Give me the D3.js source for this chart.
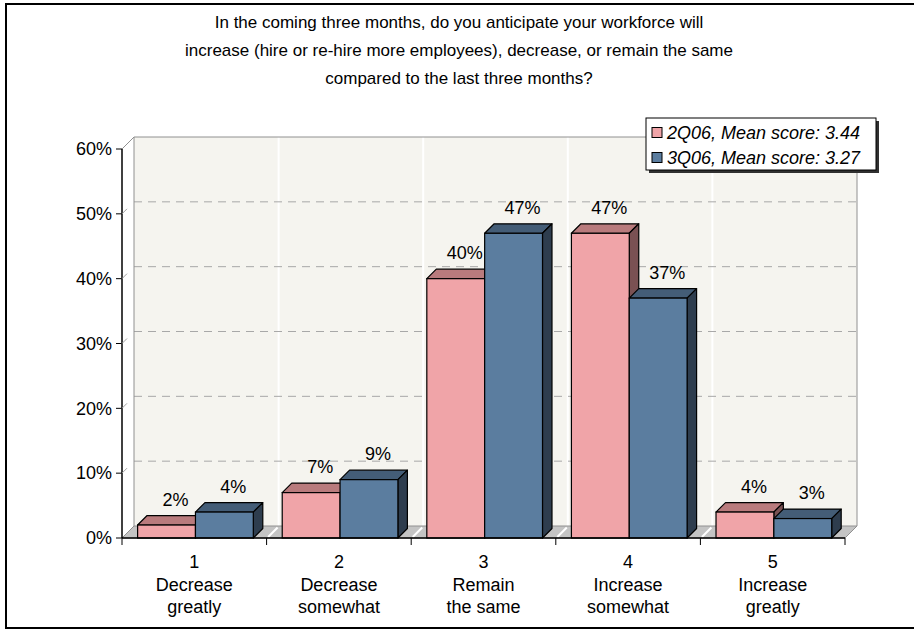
<!DOCTYPE html>
<html>
<head>
<meta charset="utf-8">
<script src="https://cdn.jsdelivr.net/npm/d3@7"></script>
<style>
  html, body { margin: 0; padding: 0; background: #fff; }
  svg { display: block; font-family: Arial, "Liberation Sans", sans-serif; }
</style>
</head>
<body>
<svg id="chart" width="914" height="630"></svg>
<script>
// Survey question, categories and the two quarters' shares (percent)
const titleLines = [
  "In the coming three months, do you anticipate your workforce will",
  "increase (hire or re-hire more employees), decrease, or remain the same",
  "compared to the last three months?"
];
const categories = [
  ["1", "Decrease", "greatly"],
  ["2", "Decrease", "somewhat"],
  ["3", "Remain", "the same"],
  ["4", "Increase", "somewhat"],
  ["5", "Increase", "greatly"]
];
const seriesNames = ["2Q06, Mean score: 3.44", "3Q06, Mean score: 3.27"];
const values2Q06 = [2, 7, 40, 47, 4];
const values3Q06 = [4, 9, 47, 37, 3];
const yTicks = [0, 10, 20, 30, 40, 50, 60];

// face colours per series: front, top, side
const palettes = [
  { front: "#f0a4a8", top: "#b97b7d", side: "#7a5153" },
  { front: "#5b7d9f", top: "#445d77", side: "#2e3d4e" }
];

const svg = d3.select("#chart");

// outer frame
svg.append("rect")
  .attr("x", 6).attr("y", 4).attr("width", 920).attr("height", 624)
  .attr("fill", "none").attr("stroke", "#000").attr("stroke-width", 2);

// title
svg.append("g").selectAll("text").data(titleLines).join("text")
  .attr("x", 459).attr("y", (d, i) => 22 + i * 28)
  .attr("dy", "0.35em")
  .attr("text-anchor", "middle")
  .attr("font-size", 17)
  .attr("fill", "#000")
  .text(d => d);

// plot geometry
const x0 = 122, x1 = 845;
const depth = 12;          // wall offset (up-right)
const barDepth = 9.5;      // bar top/side offset
const y = d3.scaleLinear().domain([0, 60]).range([538, 149]);
const xCat = d3.scaleBand().domain(d3.range(categories.length)).range([x0, x1]).padding(0);
const bw = xCat.bandwidth();
const xSer = d3.scaleBand().domain([0, 1])
  .range([0.108 * bw, 0.108 * bw + 0.8 * bw]).padding(0);

const g = svg.append("g");

// back wall
g.append("rect")
  .attr("x", x0 + depth).attr("y", y(60) - depth)
  .attr("width", x1 - x0).attr("height", y(0) - y(60))
  .attr("fill", "#f5f4ef");

// category separators on the back wall
g.append("g").selectAll("line").data(d3.range(1, categories.length)).join("line")
  .attr("x1", i => xCat(i) + depth).attr("x2", i => xCat(i) + depth)
  .attr("y1", y(60) - depth).attr("y2", y(0) - depth)
  .attr("stroke", "#ffffff").attr("stroke-width", 2);

// dashed gridlines on the back wall
g.append("g").selectAll("line").data(yTicks.filter(t => t > 0 && t < 60)).join("line")
  .attr("x1", x0 + depth).attr("x2", x1 + depth)
  .attr("y1", t => y(t) - depth).attr("y2", t => y(t) - depth)
  .attr("stroke", "#a8a8a8").attr("stroke-width", 1)
  .attr("stroke-dasharray", "8,6");

// back wall edges
g.append("path")
  .attr("d", `M${x0 + depth},${y(0) - depth}V${y(60) - depth}H${x1 + depth}V${y(0) - depth}`)
  .attr("fill", "none").attr("stroke", "#909090").attr("stroke-width", 1);
g.append("line")
  .attr("x1", x0).attr("y1", y(60)).attr("x2", x0 + depth).attr("y2", y(60) - depth)
  .attr("stroke", "#909090");

// floor
g.append("path")
  .attr("d", `M${x0},${y(0)}L${x1},${y(0)}L${x1 + depth},${y(0) - depth}L${x0 + depth},${y(0) - depth}Z`)
  .attr("fill", "#c4c4c4").attr("stroke", "#909090").attr("stroke-width", 1);
g.append("g").selectAll("line").data(d3.range(1, categories.length)).join("line")
  .attr("x1", i => xCat(i) + 1.5).attr("y1", y(0) - 1)
  .attr("x2", i => xCat(i) + depth - 1).attr("y2", y(0) - depth + 1.5)
  .attr("stroke", "#ffffff").attr("stroke-width", 2);

// bars
const allSeries = [values2Q06, values3Q06];
allSeries.forEach((vals, s) => {
  const pal = palettes[s];
  const bg = g.append("g");
  vals.forEach((v, i) => {
    const bx = xCat(i) + xSer(s);
    const w = xSer.bandwidth();
    const yt = y(v), yb = y(0);
    const d = barDepth;
    // top face
    bg.append("path")
      .attr("d", `M${bx},${yt}L${bx + d},${yt - d}L${bx + w + d},${yt - d}L${bx + w},${yt}Z`)
      .attr("fill", pal.top).attr("stroke", "#000").attr("stroke-width", 1.2)
      .attr("stroke-linejoin", "round");
    // side face
    bg.append("path")
      .attr("d", `M${bx + w},${yt}L${bx + w + d},${yt - d}L${bx + w + d},${yb - d}L${bx + w},${yb}Z`)
      .attr("fill", pal.side).attr("stroke", "#000").attr("stroke-width", 1.2)
      .attr("stroke-linejoin", "round");
    // front face
    bg.append("rect")
      .attr("x", bx).attr("y", yt).attr("width", w).attr("height", yb - yt)
      .attr("fill", pal.front).attr("stroke", "#000").attr("stroke-width", 1.2);
    // value label
    bg.append("text")
      .attr("x", bx + w / 2 + 9).attr("y", yt - d - 16)
      .attr("dy", "0.35em")
      .attr("text-anchor", "middle").attr("font-size", 18).attr("fill", "#000")
      .text(v + "%");
  });
});

// value axis
const ya = svg.append("g");
ya.append("line").attr("x1", x0).attr("x2", x0).attr("y1", y(60)).attr("y2", y(0))
  .attr("stroke", "#000").attr("stroke-width", 1.5);
ya.selectAll(".tk").data(yTicks).join("line")
  .attr("x1", x0 - 6).attr("x2", x0)
  .attr("y1", t => y(t)).attr("y2", t => y(t))
  .attr("stroke", "#000").attr("stroke-width", 1);
ya.selectAll(".stub").data(yTicks.filter(t => t > 0 && t < 60)).join("line")
  .attr("x1", x0).attr("y1", t => y(t))
  .attr("x2", x0 + 5).attr("y2", t => y(t) - 5)
  .attr("stroke", "#a0a0a0").attr("stroke-width", 1);
ya.selectAll("text").data(yTicks).join("text")
  .attr("x", x0 - 10).attr("y", t => y(t)).attr("dy", "0.35em")
  .attr("text-anchor", "end").attr("font-size", 18).attr("fill", "#000")
  .text(t => t + "%");

// category axis
const xa = svg.append("g");
xa.append("line").attr("x1", x0).attr("x2", x1).attr("y1", y(0)).attr("y2", y(0))
  .attr("stroke", "#000").attr("stroke-width", 1.5);
xa.selectAll(".tk").data(d3.range(categories.length + 1)).join("line")
  .attr("x1", i => x0 + i * bw).attr("x2", i => x0 + i * bw)
  .attr("y1", y(0)).attr("y2", y(0) + 7)
  .attr("stroke", "#000").attr("stroke-width", 1);
categories.forEach((lines, i) => {
  xa.append("g").selectAll("text").data(lines).join("text")
    .attr("x", xCat(i) + bw / 2)
    .attr("y", (d, k) => 562 + k * 22.5)
    .attr("dy", "0.35em")
    .attr("text-anchor", "middle").attr("font-size", 18).attr("fill", "#000")
    .text(d => d);
});

// legend
const lg = svg.append("g");
lg.append("rect").attr("x", 649).attr("y", 121).attr("width", 230).attr("height", 52)
  .attr("fill", "#303030");
lg.append("rect").attr("x", 646).attr("y", 118).attr("width", 230).attr("height", 52)
  .attr("fill", "#fff").attr("stroke", "#000").attr("stroke-width", 1);
seriesNames.forEach((name, s) => {
  const cy = 132.5 + s * 25;
  lg.append("rect").attr("x", 652).attr("y", cy - 5).attr("width", 10).attr("height", 10)
    .attr("fill", palettes[s].front).attr("stroke", "#000").attr("stroke-width", 1);
  lg.append("text").attr("x", 667).attr("y", cy).attr("dy", "0.35em")
    .attr("font-size", 18).attr("font-style", "italic").attr("fill", "#000")
    .text(name);
});
</script>
</body>
</html>
